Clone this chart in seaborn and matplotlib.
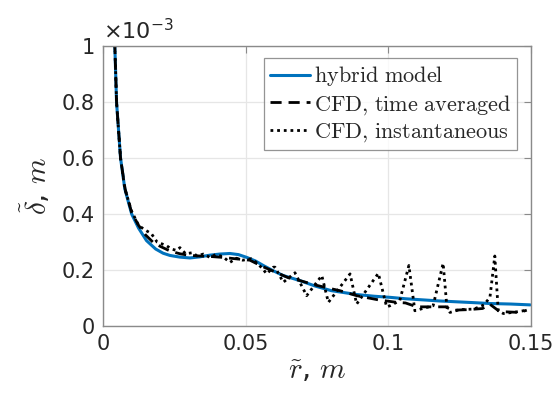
import matplotlib

matplotlib.use("Agg")
import matplotlib.pyplot as plt
import pandas as pd
import seaborn as sns

# radial position r (m) and film thickness delta (units of 1e-3 m)
hybrid_r = [0.004, 0.0042, 0.0048, 0.0062, 0.0077, 0.0101, 0.0125, 0.0153, 0.0185,
            0.0211, 0.0235, 0.027, 0.0305, 0.034, 0.0375, 0.041, 0.0445, 0.0475,
            0.0504, 0.0535, 0.0562, 0.0595, 0.0632, 0.069, 0.0745, 0.08, 0.089,
            0.095, 0.1006, 0.106, 0.112, 0.118, 0.124, 0.13, 0.1354, 0.143, 0.1497]
hybrid_d = [1.15, 1.0, 0.80, 0.60, 0.49, 0.40, 0.35, 0.305, 0.275,
            0.26, 0.252, 0.246, 0.243, 0.247, 0.253, 0.257, 0.259, 0.255,
            0.245, 0.232, 0.216, 0.198, 0.18, 0.162, 0.142, 0.126, 0.112,
            0.106, 0.102, 0.097, 0.093, 0.089, 0.086, 0.083, 0.080, 0.078, 0.075]

avg_r = [0.004, 0.0042, 0.0048, 0.0062, 0.0078, 0.0101, 0.0125, 0.015, 0.0175,
         0.020, 0.0235, 0.027, 0.0305, 0.034, 0.038, 0.042, 0.0465, 0.0515,
         0.056, 0.061, 0.065, 0.069, 0.0749, 0.079, 0.083, 0.0889, 0.0965,
         0.103, 0.106, 0.11, 0.117, 0.12, 0.1225, 0.128, 0.133, 0.1355, 0.139,
         0.146, 0.1485]
avg_d = [1.15, 1.0, 0.80, 0.60, 0.49, 0.405, 0.36, 0.325, 0.30,
         0.285, 0.268, 0.258, 0.252, 0.25, 0.248, 0.245, 0.24, 0.235,
         0.212, 0.19, 0.172, 0.162, 0.145, 0.135, 0.126, 0.108, 0.093,
         0.084, 0.082, 0.068, 0.068, 0.068, 0.056, 0.058, 0.062, 0.078, 0.051,
         0.048, 0.056]

inst_r = [0.004, 0.0042, 0.0048, 0.0062, 0.0077, 0.0101, 0.0125, 0.0145, 0.017,
          0.019, 0.0223, 0.024, 0.0258, 0.027, 0.029, 0.0315, 0.033, 0.0352,
          0.0375, 0.0395, 0.042, 0.0445, 0.0468, 0.049, 0.052, 0.054, 0.056,
          0.0574, 0.0597, 0.0603, 0.0632, 0.0673, 0.0714, 0.0767, 0.079, 0.0866,
          0.0889, 0.0965, 0.0994, 0.1006, 0.104, 0.1072, 0.1093, 0.112, 0.1157,
          0.1192, 0.1205, 0.1216, 0.125, 0.13, 0.1335, 0.1356, 0.1373, 0.1385,
          0.1403, 0.145, 0.1485]
inst_d = [1.15, 1.0, 0.80, 0.60, 0.49, 0.41, 0.36, 0.345, 0.33,
          0.30, 0.287, 0.275, 0.27, 0.28, 0.258, 0.262, 0.25, 0.257,
          0.245, 0.255, 0.248, 0.227, 0.242, 0.235, 0.24, 0.225, 0.204,
          0.186, 0.21, 0.21, 0.156, 0.19, 0.108, 0.18, 0.084, 0.186,
          0.078, 0.188, 0.068, 0.072, 0.09, 0.216, 0.054, 0.062, 0.072,
          0.224, 0.07, 0.048, 0.058, 0.06, 0.075, 0.102, 0.25, 0.054,
          0.044, 0.05, 0.056]

x_ticks = [0, 0.05, 0.1, 0.15]
x_labels = ["0", "0.05", "0.1", "0.15"]
y_ticks = [0, 0.2, 0.4, 0.6, 0.8, 1.0]
y_labels = ["0", "0.2", "0.4", "0.6", "0.8", "1"]

sns.set_style("white")
plt.rcParams["font.family"] = ["DejaVu Sans"]
plt.rcParams["mathtext.fontset"] = "cm"

fig = plt.figure(figsize=(5.59, 3.94), dpi=100)
ax = fig.add_axes([0.184, 0.173, 0.766, 0.709])

hybrid = pd.DataFrame({"r": hybrid_r, "d": hybrid_d})
avg = pd.DataFrame({"r": avg_r, "d": avg_d})
inst = pd.DataFrame({"r": inst_r, "d": inst_d})

sns.lineplot(data=hybrid, x="r", y="d", ax=ax, color="#0072BD", lw=2.2,
             label=r"$\mathrm{hybrid\ model}$", sort=False)
sns.lineplot(data=avg, x="r", y="d", ax=ax, color="black", lw=2.0,
             label=r"$\mathrm{CFD{,}\ time\ averaged}$", sort=False)
sns.lineplot(data=inst, x="r", y="d", ax=ax, color="black", lw=2.0,
             label=r"$\mathrm{CFD{,}\ instantaneous}$", sort=False)
lines = ax.get_lines()
lines[1].set_dashes((4, 2.5))
lines[2].set_dashes((1.0, 1.4))

ax.set_xlim(0, 0.15)
ax.set_ylim(0, 1)
ax.set_xticks(x_ticks)
ax.set_xticklabels(x_labels)
ax.set_yticks(y_ticks)
ax.set_yticklabels(y_labels)
ax.grid(True, color="#e6e6e6", lw=0.9)
ax.set_axisbelow(True)
for s in ax.spines.values():
    s.set_color("#8a8a8a")
    s.set_linewidth(1.0)
ax.tick_params(direction="in", length=5, width=0.8, color="#8a8a8a",
               labelsize=15, labelcolor="#262626", top=True, right=True, pad=6)

ax.set_xlabel(r"$\tilde{r}$, $m$", fontsize=21, labelpad=2)
ax.set_ylabel(r"$\tilde{\delta}$, $m$", fontsize=21, labelpad=6)
ax.text(0.0, 1.01, r"$\times10^{-3}$", transform=ax.transAxes, fontsize=16,
        color="#262626", ha="left", va="bottom", math_fontfamily="dejavusans")

leg = ax.legend(loc="upper right", bbox_to_anchor=(0.968, 0.96), fontsize=16,
                frameon=True, fancybox=False, handlelength=1.8,
                handletextpad=0.15, borderpad=0.3, labelspacing=0.2,
                borderaxespad=0)
leg.get_frame().set_edgecolor("#7a7a7a")
leg.get_frame().set_linewidth(0.9)

fig.savefig("out.png", dpi=100)
